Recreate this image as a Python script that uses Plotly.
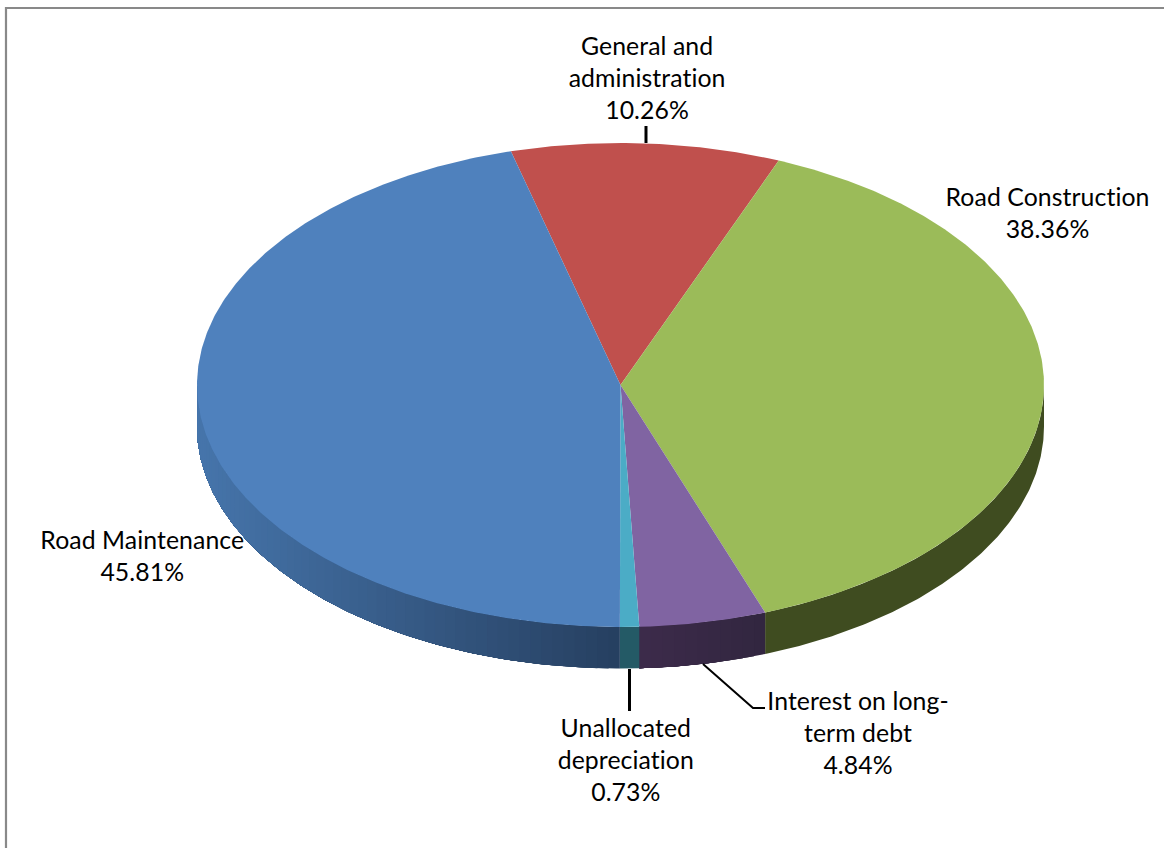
import math
import plotly.graph_objects as go

# ---- data ----
categories = ["General and<br>administration", "Road Construction", "Interest on long-<br>term debt",
              "Unallocated<br>depreciation", "Road Maintenance"]
shares = [10.26, 38.36, 4.84, 0.73, 45.81]
share_labels = ["10.26%", "38.36%", "4.84%", "0.73%", "45.81%"]

# ---- style / layout ----
W, H = 1164, 848
CX, CY, RX, RY, DEPTH = 620.5, 385.0, 423.5, 242.0, 41.5
START_DEG = 345.0
top_colors = ["#C0504D", "#9BBB59", "#8064A2", "#4BACC6", "#4F81BD"]
wall_left = [None, ("#3F4C20", "#3F4C20"), ("#3D2B4A", "#312640"), ("#245A66", "#245A66"), ("#4675AB", "#263F60")]
label_pos = [(647, 78), (1047, 212.5), (858, 732), (626, 759), (142, 555.5)]
FONT = "Lato"
FSIZE = 24.8


def px(x):
    return x / W


def py(y):
    return 1 - y / H


def hex_rgb(c):
    return tuple(int(c[i:i + 2], 16) for i in (1, 3, 5))


def mix(a, b, t):
    ra, rb = hex_rgb(a), hex_rgb(b)
    return "rgb(%d,%d,%d)" % tuple(round(ra[i] + (rb[i] - ra[i]) * t) for i in range(3))


def ring(a0, a1, n):
    return [a0 + (a1 - a0) * i / n for i in range(n + 1)]


def ex(deg):
    return math.sin(math.radians(deg))  # unit disc x, clockwise from top


def ey(deg):
    return math.cos(math.radians(deg))


def wall(b0, b1, col):
    arc = ring(b0, b1, max(2, int((b1 - b0) * 2)))
    xs = [ex(d) for d in arc] + [ex(d) for d in reversed(arc)]
    ys = [ey(d) for d in arc] + [ey(d) - dz for d in reversed(arc)]
    fig.add_trace(go.Scatter(x=xs, y=ys, mode="lines", fill="toself", fillcolor=col,
                             line=dict(color=col, width=0), hoverinfo="skip", showlegend=False))


fig = go.Figure()
dz = DEPTH / RY

# slice limits derived from the shares
limits = []
a = START_DEG
for s in shares:
    limits.append((a, a + s * 3.6))
    a += s * 3.6

# side walls (only the front half of the disc, 90..270 deg)
# Each shaded step is painted from its start to the end of the slice, so later
# steps cover earlier ones and no seams show between them.
for i, (a0, a1) in enumerate(limits):
    for shift in (0, 360):
        l2, h2 = max(a0 - shift, 90), min(a1 - shift, 270)
        if h2 <= l2:
            continue
        c0, c1 = wall_left[i]
        if c0 == c1:
            wall(l2, h2, c0)
            continue
        steps = max(1, int((h2 - l2) / 1.5))
        angs = ring(l2, h2, steps)
        for k in range(steps):
            mid = (angs[k] + angs[k + 1]) / 2
            if i == 4:
                t = max(0.0, min(1.0, -ex(mid)))  # 0 at front centre, 1 at the far left
                col = mix(c1, c0, t)
            else:
                col = mix(c1, c0, (mid - l2) / (h2 - l2))
            wall(angs[k], h2, col)

# top face
for i, (a0, a1) in enumerate(limits):
    n = max(4, int((a1 - a0) * 2))
    arc = ring(a0, a1, n)
    xs = [0] + [ex(d) for d in arc] + [0]
    ys = [0] + [ey(d) for d in arc] + [0]
    fig.add_trace(go.Scatter(x=xs, y=ys, mode="lines", fill="toself", fillcolor=top_colors[i],
                             line=dict(color=top_colors[i], width=0), name=categories[i].replace("<br>", " "),
                             hoverinfo="name", showlegend=False))

annotations = []
for cat, lab, (lx, ly) in zip(categories, share_labels, label_pos):
    annotations.append(dict(xref="paper", yref="paper", x=px(lx), y=py(ly), text=f"{cat}<br>{lab}",
                            showarrow=False, xanchor="center", yanchor="middle", align="center",
                            font=dict(family=FONT, size=FSIZE, color="#000000")))


def seg(pts, width, color):
    path = "M " + " L ".join(f"{px(x):.5f},{py(y):.5f}" for x, y in pts)
    return dict(type="path", xref="paper", yref="paper", path=path,
                line=dict(color=color, width=width), layer="above")


shapes = [
    seg([(6, H), (6, 8), (W, 8)], 2.2, "#898989"),
    seg([(646, 126), (646, 143)], 3, "#000000"),
    seg([(629.5, 669), (629.5, 711)], 3, "#000000"),
    seg([(703, 664), (753, 708), (765, 708)], 2, "#000000"),
]

fig.update_layout(
    width=W, height=H, autosize=False,
    margin=dict(l=0, r=0, t=0, b=0, pad=0),
    paper_bgcolor="#FFFFFF", plot_bgcolor="#FFFFFF", showlegend=False,
    xaxis=dict(range=[-CX / RX, (W - CX) / RX], visible=False, fixedrange=True),
    yaxis=dict(range=[(CY - H) / RY, CY / RY], visible=False, fixedrange=True),
    annotations=annotations, shapes=shapes,
)

fig.write_html("out.html", config=dict(displayModeBar=False),
               post_script="document.body.style.margin='0';document.body.style.overflow='hidden';"
                           "document.querySelectorAll('.annotation-text').forEach(function(t){"
                           "t.style.letterSpacing='0.08px';t.style.fontVariantLigatures='none';"
                           "t.style.fontFeatureSettings='\"liga\" 0, \"clig\" 0';});")
